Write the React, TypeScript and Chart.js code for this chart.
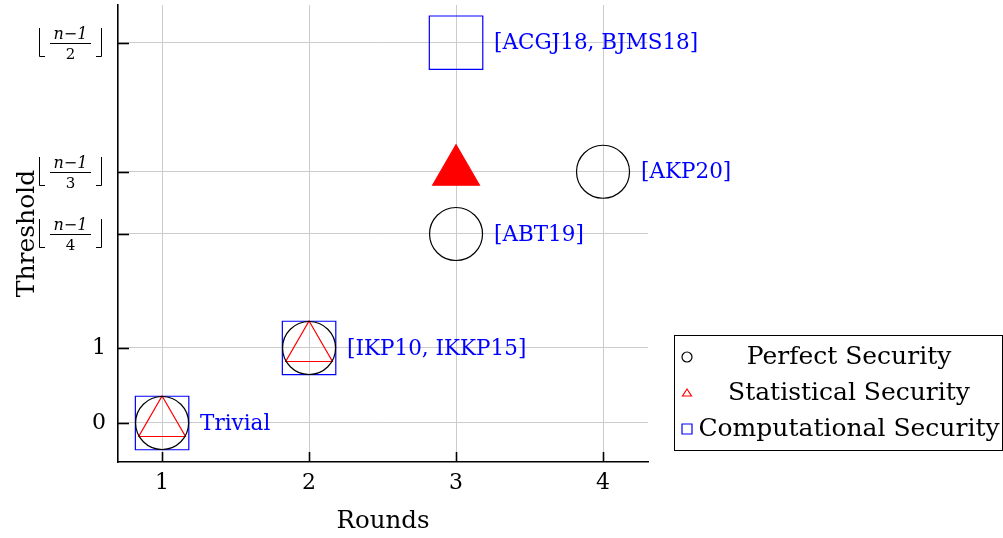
import React, { useEffect, useRef } from "react";
import { Chart, registerables } from "chart.js";

Chart.register(...registerables);

// ---- data ----
const xTickValues = [1, 2, 3, 4];
const yTickValues = [0, 1, 2.52, 3.35, 5.07];
const yTickLabels = ["0", "1", "⌊(n−1)/4⌋", "⌊(n−1)/3⌋", "⌊(n−1)/2⌋"];

const perfectX = [1, 2, 3, 4];
const perfectY = [0, 1, 2.52, 3.35];

const statisticalX = [1, 2, 3];
const statisticalY = [0, 1, 3.35];
const statisticalFilled = [false, false, true];

const computationalX = [1, 2, 3];
const computationalY = [0, 1, 5.07];

const annotationX = [1, 2, 3, 4, 3];
const annotationY = [0, 1, 2.52, 3.35, 5.07];
const annotationText = ["Trivial", "[IKP10, IKKP15]", "[ABT19]", "[AKP20]", "[ACGJ18, BJMS18]"];

const seriesNames = ["Perfect Security", "Statistical Security", "Computational Security"];

const SERIF = "'DejaVu Serif', 'Liberation Serif', serif";

const zip = (xs: number[], ys: number[]) => xs.map((x, i) => ({ x, y: ys[i] }));

const decorPlugin = {
  id: "decor",
  afterDraw(chart: any) {
    const ctx = chart.ctx;
    const xs = chart.scales.x;
    const ys = chart.scales.y;
    const area = chart.chartArea;
    ctx.save();
    // inside tick marks
    ctx.strokeStyle = "#000";
    ctx.lineWidth = 1.6;
    xTickValues.forEach((v) => {
      const px = Math.round(xs.getPixelForValue(v)) + 0.5;
      ctx.beginPath();
      ctx.moveTo(px, area.bottom);
      ctx.lineTo(px, area.bottom - 10);
      ctx.stroke();
    });
    yTickValues.forEach((v) => {
      const py = Math.round(ys.getPixelForValue(v)) + 0.5;
      ctx.beginPath();
      ctx.moveTo(area.left, py);
      ctx.lineTo(area.left + 11, py);
      ctx.stroke();
    });

    // fraction tick labels
    ctx.fillStyle = "#000";
    yTickLabels.forEach((lab, i) => {
      const m = /⌊\((.*)\)\/(.*)⌋/.exec(lab);
      if (!m) return;
      const py = Math.round(ys.getPixelForValue(yTickValues[i]));
      const cx = 70.5;
      ctx.textAlign = "center";
      ctx.textBaseline = "alphabetic";
      ctx.font = `italic 16px ${SERIF}`;
      ctx.fillText(m[1], cx, py - 4);
      ctx.font = `15px ${SERIF}`;
      ctx.fillText(m[2], cx, py + 16);
      ctx.strokeStyle = "#000";
      ctx.lineWidth = 1;
      ctx.beginPath();
      ctx.moveTo(50, py + 0.5);
      ctx.lineTo(91, py + 0.5);
      ctx.stroke();
      // floor brackets
      ctx.beginPath();
      ctx.moveTo(39.5, py - 15);
      ctx.lineTo(39.5, py + 13.5);
      ctx.lineTo(45, py + 13.5);
      ctx.moveTo(101.5, py - 15);
      ctx.lineTo(101.5, py + 13.5);
      ctx.lineTo(96, py + 13.5);
      ctx.stroke();
    });

    // annotations
    ctx.fillStyle = "#0000ff";
    ctx.font = `21.5px ${SERIF}`;
    ctx.textAlign = "left";
    ctx.textBaseline = "middle";
    annotationText.forEach((t, i) => {
      const px = xs.getPixelForValue(annotationX[i]);
      const py = ys.getPixelForValue(annotationY[i]);
      ctx.fillText(t, px + 38, py + 1);
    });

    // legend
    const bx = 674.5, by = 335.5, bw = 328, bh = 115;
    ctx.fillStyle = "#fff";
    ctx.fillRect(bx, by, bw, bh);
    ctx.strokeStyle = "#000";
    ctx.lineWidth = 1;
    ctx.strokeRect(bx, by, bw, bh);
    ctx.font = `25px ${SERIF}`;
    ctx.textAlign = "center";
    ctx.textBaseline = "middle";
    chart.data.datasets.forEach((ds: any, i: number) => {
      const cy = 357 + 36 * i;
      const mx = 687;
      ctx.strokeStyle = ds.borderColor;
      ctx.lineWidth = 1.2;
      ctx.beginPath();
      if (ds.pointStyle === "circle") {
        ctx.arc(mx, cy, 5, 0, Math.PI * 2);
      } else if (ds.pointStyle === "triangle") {
        ctx.moveTo(mx, cy - 4);
        ctx.lineTo(mx + 4.5, cy + 3);
        ctx.lineTo(mx - 4.5, cy + 3);
        ctx.closePath();
      } else {
        ctx.rect(mx - 5, cy - 5, 10, 10);
      }
      ctx.stroke();
      ctx.fillStyle = "#000";
      ctx.fillText(ds.label, 849, cy);
    });
    ctx.restore();
  },
};

export default function App() {
  const ref = useRef<HTMLCanvasElement>(null);
  useEffect(() => {
    document.body.style.margin = "0";
    const chart = new Chart(ref.current!, {
      type: "scatter",
      data: {
        datasets: [
          {
            label: seriesNames[0],
            data: zip(perfectX, perfectY),
            pointStyle: "circle",
            pointRadius: 26.5,
            borderColor: "#000000",
            backgroundColor: "rgba(0,0,0,0)",
            borderWidth: 1.2,
          },
          {
            label: seriesNames[1],
            data: zip(statisticalX, statisticalY),
            pointStyle: "triangle",
            pointRadius: 27,
            borderColor: "#ff0000",
            backgroundColor: statisticalFilled.map((f) => (f ? "#ff0000" : "rgba(0,0,0,0)")),
            borderWidth: 1.2,
          },
          {
            label: seriesNames[2],
            data: zip(computationalX, computationalY),
            pointStyle: "rect",
            pointRadius: 37.8,
            borderColor: "#0000ff",
            backgroundColor: "rgba(0,0,0,0)",
            borderWidth: 1.2,
          },
        ],
      } as any,
      options: {
        responsive: false,
        animation: false,
        layout: { autoPadding: false, padding: { top: 5, right: 355, left: 0, bottom: 0 } },
        plugins: { legend: { display: false }, tooltip: { enabled: false } },
        scales: {
          x: {
            type: "linear",
            min: 0.7,
            max: 4.306,
            afterBuildTicks: (s: any) => {
              s.ticks = xTickValues.map((v) => ({ value: v }));
            },
            afterFit: (s: any) => {
              s.height = 76;
              s.paddingLeft = 0;
              s.paddingRight = 0;
              s.paddingTop = 0;
              s.paddingBottom = 0;
            },
            ticks: {
              padding: 8,
              color: "#000",
              font: { family: SERIF, size: 22 },
              callback: (v: any) => String(v),
            },
            grid: { color: "#cccccc", lineWidth: 1, drawTicks: false },
            border: { display: true, color: "#000", width: 1.6 },
            title: {
              display: true,
              text: "Rounds",
              color: "#000",
              font: { family: SERIF, size: 24.5 },
              padding: { top: 0, bottom: 2 },
            },
          },
          y: {
            type: "linear",
            min: -0.52,
            max: 5.573,
            afterBuildTicks: (s: any) => {
              s.ticks = yTickValues.map((v) => ({ value: v }));
            },
            afterFit: (s: any) => {
              s.width = 118;
              s.paddingLeft = 0;
              s.paddingRight = 0;
              s.paddingTop = 0;
              s.paddingBottom = 0;
            },
            ticks: {
              padding: 12,
              color: "#000",
              font: { family: SERIF, size: 22 },
              callback: (v: any) => {
                const i = yTickValues.indexOf(Number(v));
                const lab = i >= 0 ? yTickLabels[i] : "";
                return lab.startsWith("⌊") ? "" : lab;
              },
            },
            grid: { color: "#cccccc", lineWidth: 1, drawTicks: false },
            border: { display: true, color: "#000", width: 1.6 },
            title: {
              display: true,
              text: "Threshold",
              color: "#000",
              font: { family: SERIF, size: 25 },
              padding: { top: 12, bottom: 0 },
            },
          },
        },
      } as any,
      plugins: [decorPlugin],
    });
    return () => chart.destroy();
  }, []);
  return (
    <div style={{ width: 1003, height: 538 }}>
      <canvas ref={ref} width={1003} height={538} style={{ display: "block" }} />
    </div>
  );
}
